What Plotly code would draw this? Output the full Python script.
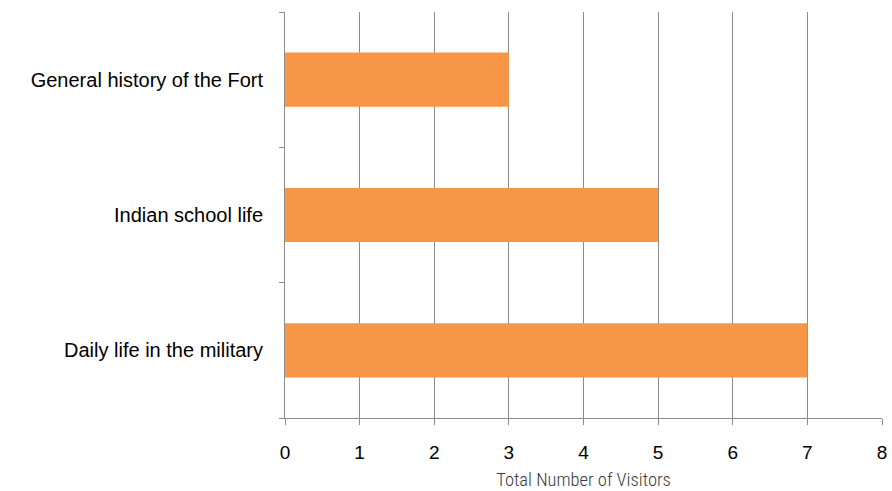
import plotly.graph_objects as go

# Tour topics (bottom to top) and visitor counts
topics = ["Daily life in the military", "Indian school life", "General history of the Fort"]
visitors = [7, 5, 3]
x_ticks = [0, 1, 2, 3, 4, 5, 6, 7, 8]

fig = go.Figure(
    go.Bar(
        y=topics,
        x=visitors,
        orientation="h",
        marker=dict(color="#F79646", line=dict(width=0)),
        width=0.4,
    )
)

fig.update_layout(
    width=892,
    height=491,
    margin=dict(l=285, r=10, t=12, b=73, autoexpand=False),
    paper_bgcolor="white",
    plot_bgcolor="white",
    showlegend=False,
    font=dict(family="Liberation Sans", color="#000000"),
)

fig.update_xaxes(
    range=[0, 8],
    tickvals=x_ticks,
    ticktext=[str(v) for v in x_ticks],
    showgrid=True,
    gridcolor="#8c8c8c",
    gridwidth=1,
    showline=True,
    linecolor="#8c8c8c",
    linewidth=1,
    ticks="outside",
    ticklen=6,
    tickcolor="#8c8c8c",
    tickfont=dict(family="Liberation Sans", size=19, color="#000000"),
    ticklabelstandoff=11,
    zeroline=False,
    title=dict(
        text="Total Number of Visitors",
        font=dict(family="Roboto Condensed, sans-serif", size=18.5, color="#3a3a3a", weight=300),
        standoff=12,
    ),
)

fig.update_yaxes(
    type="category",
    range=[-0.5, 2.5],
    tickson="boundaries",
    showgrid=False,
    showline=True,
    linecolor="#8c8c8c",
    linewidth=1,
    ticks="outside",
    ticklen=5,
    tickcolor="#8c8c8c",
    tickfont=dict(family="Liberation Sans", size=20, color="#000000"),
    ticklabelstandoff=17,
)

fig.write_html("out.html")
